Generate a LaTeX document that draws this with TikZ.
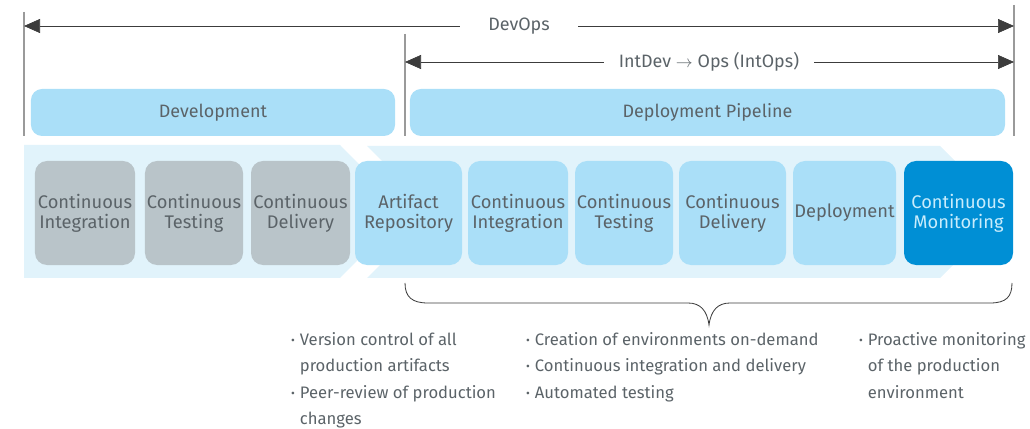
\documentclass[tikz,border=0pt]{standalone}
\usepackage{fontspec}
\setmainfont{Fira Sans}
\usetikzlibrary{arrows.meta}

\definecolor{bandfill}{HTML}{E1F3FB}
\definecolor{lightfill}{HTML}{AADFF8}
\definecolor{grayfill}{HTML}{B9C4C9}
\definecolor{darkfill}{HTML}{008FD5}
\definecolor{txt}{HTML}{5B6368}
\definecolor{paletxt}{HTML}{C8ECFC}
\definecolor{linedark}{HTML}{3C3C3C}
\definecolor{tickgray}{HTML}{9A9A9A}

\newcommand{\bmark}{\makebox[0.26cm][l]{\raisebox{0.12ex}{\fontsize{10}{10}\selectfont\textbullet}}}
\newcommand{\bskip}{\hspace*{0.26cm}}

\begin{document}
\begin{tikzpicture}[x=0.03cm, y=-0.03cm,
    phase/.style = {rectangle, rounded corners=0.33cm, fill=lightfill, text=txt, minimum height=1.41cm, inner sep=0pt, font=\fontsize{15.3}{17}\selectfont},
    stage/.style = {rectangle, rounded corners=0.36cm, fill=lightfill, text=txt, minimum height=3.12cm, align=center, inner sep=0pt, font=\fontsize{15.6}{17}\selectfont},
    head/.style = {text=txt, inner ysep=0pt, font=\fontsize{15.3}{17}\selectfont},
    span/.style = {draw=linedark, line width=0.6pt, -{Triangle[length=0.48cm, width=0.42cm]}},
    tick/.style = {draw=tickgray, line width=0.9pt},
    notes/.style = {text=txt, align=left, inner sep=0pt, anchor=north west, font=\fontsize{14.2}{22.6}\selectfont}]
    \useasboundingbox (0,0) rectangle (1030,429);

    \fill[bandfill] (24,145) -- (340,145) -- (406,211.5) -- (340,278) -- (24,278) -- cycle;
    \fill[bandfill] (367,146) -- (940,146) -- (1006,212) -- (940,278) -- (367,278) -- (433,212) -- cycle;

    \coordinate (devL) at (24,26);
    \coordinate (devR) at (1014,26);
    \coordinate (intL) at (405,62);
    \coordinate (intR) at (1014,62);

    \draw[tick] (24,12) -- (24,136);
    \draw[tick] (405,34) -- (405,136);
    \draw[tick] (1014,5) -- (1014,136);

    \node[head, inner xsep=0.85cm] (devops) at (519,26) {DevOps};
    \node[head, inner xsep=0.45cm] (intops) at (709,62) {IntDev $\rightarrow$ Ops (IntOps)};
    \draw[span] (devops.west) -- (devL);
    \draw[span] (devops.east) -- (devR);
    \draw[span] (intops.west) -- (intL);
    \draw[span] (intops.east) -- (intR);

    \node[phase, minimum width=10.92cm] (dev) at (213,112.5) {Development};
    \node[phase, minimum width=17.85cm] (pipe) at (707.5,112.5) {Deployment Pipeline};

    \node[stage, fill=grayfill, minimum width=3.0cm] (ci1) at (85,213) {Continuous\\Integration};
    \node[stage, fill=grayfill, minimum width=2.94cm] (ct1) at (194,213) {Continuous\\Testing};
    \node[stage, fill=grayfill, minimum width=2.97cm] (cd1) at (300.5,213) {Continuous\\Delivery};
    \node[stage, minimum width=3.21cm] (ar) at (408.5,213) {Artifact\\Repository};
    \node[stage, minimum width=3.0cm] (ci2) at (518,213) {Continuous\\Integration};
    \node[stage, minimum width=2.94cm] (ct2) at (624,213) {Continuous\\Testing};
    \node[stage, minimum width=3.21cm] (cd2) at (732.5,213) {Continuous\\Delivery};
    \node[stage, minimum width=3.09cm] (dep) at (844.5,213) {Deployment};
    \node[stage, fill=darkfill, text=paletxt, minimum width=3.27cm] (cm) at (958.5,213) {Continuous\\Monitoring};

    \draw[linedark, line width=0.7pt] (405,283) .. controls (405,297) and (412,303) .. (428,303) -- (688,303) .. controls (700,303) and (707,310) .. (709,325) .. controls (711,310) and (718,303) .. (730,303) -- (990,303) .. controls (1006,303) and (1012,297) .. (1012,283);

    \node[notes] (n1) at (291,332) {\bmark Version control of all\\ \bskip production artifacts\\ \bmark Peer-review of production\\ \bskip changes};
    \node[notes] (n2) at (526,332) {\bmark Creation of environments on-demand\\ \bmark Continuous integration and delivery\\ \bmark Automated testing};
    \node[notes] (n3) at (859,332) {\bmark Proactive monitoring\\ \bskip of the production\\ \bskip environment};
\end{tikzpicture}
\end{document}
